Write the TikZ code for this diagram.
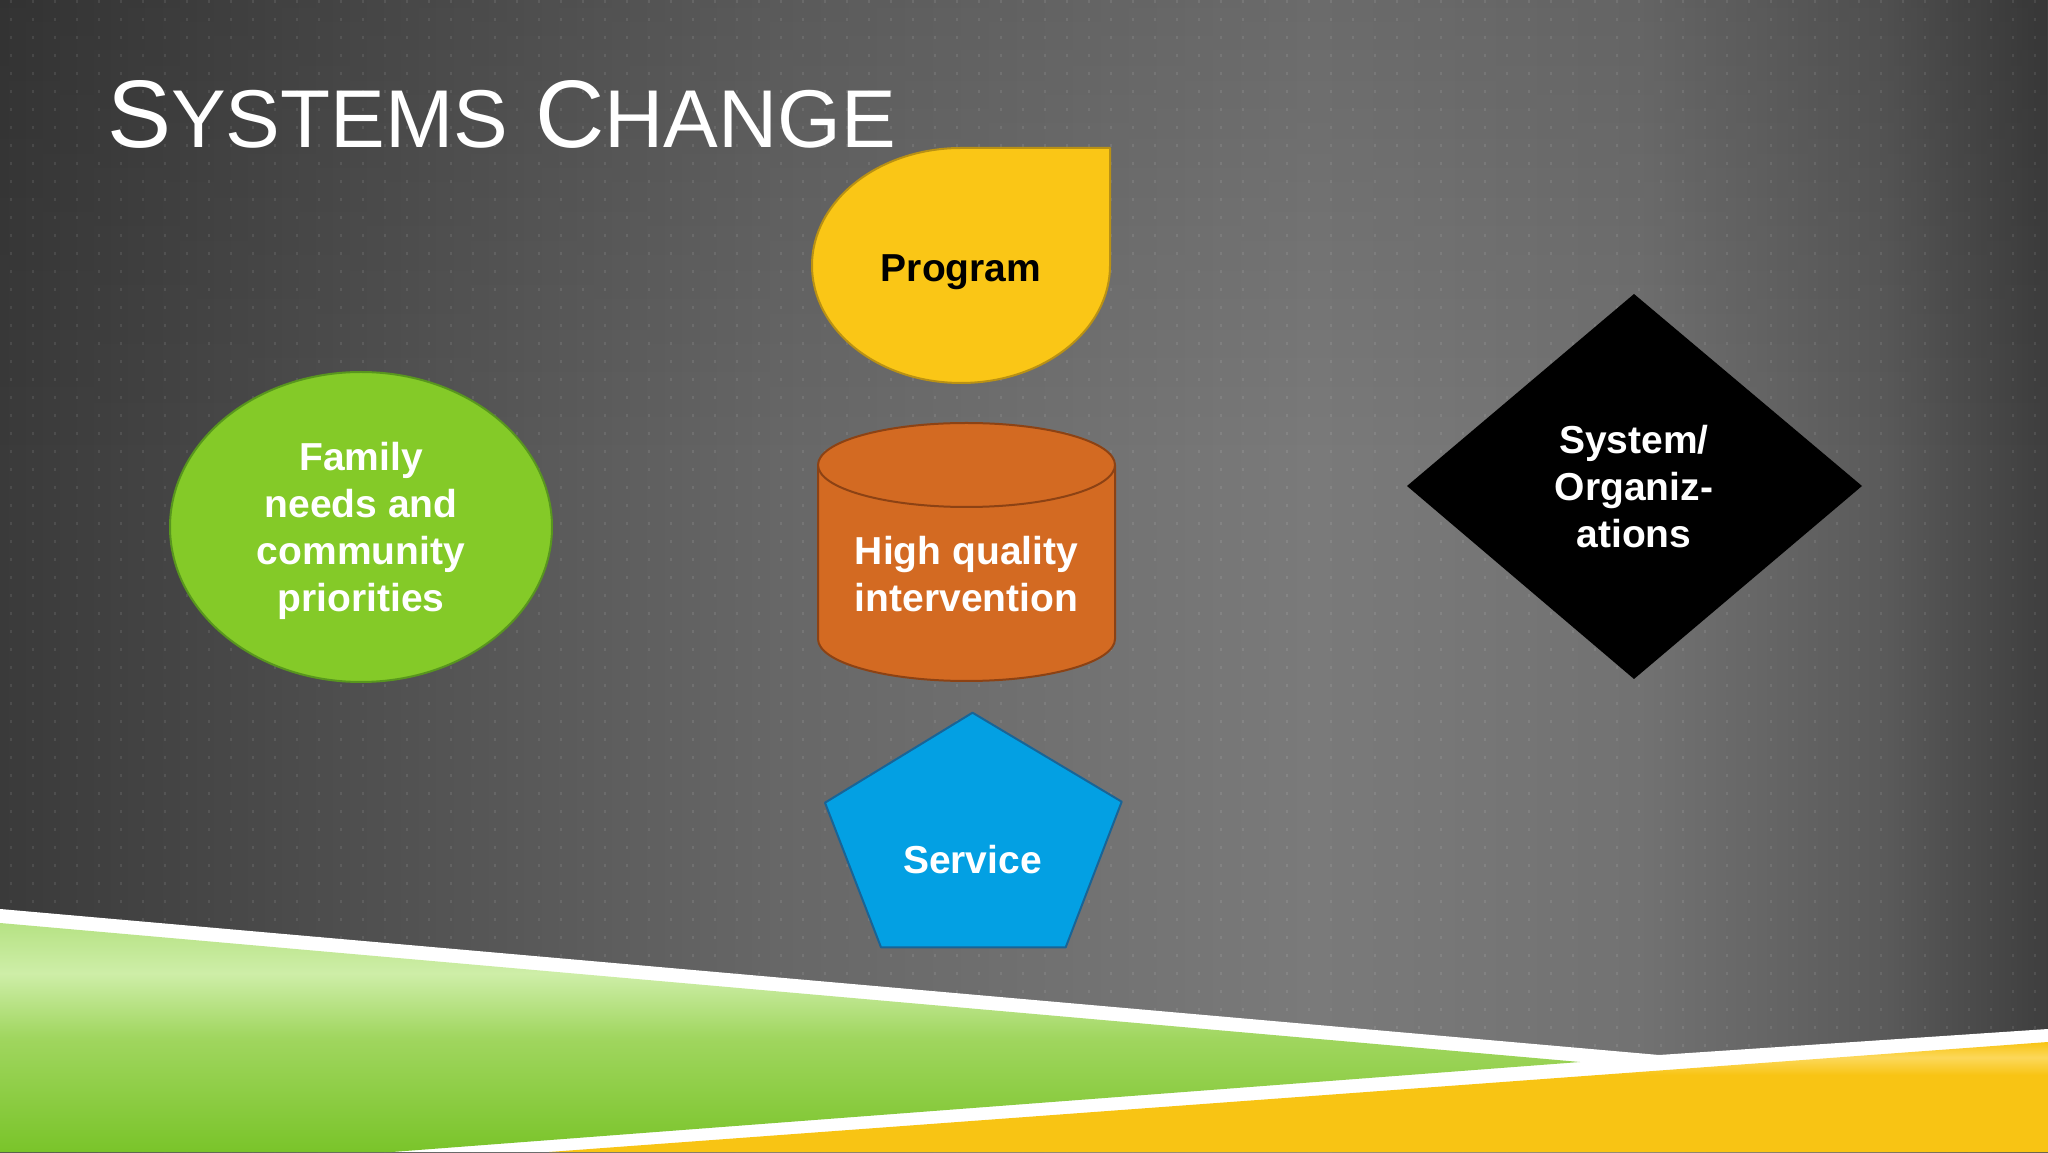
\documentclass[tikz,border=0pt]{standalone}
\usepackage{fontspec}
\setmainfont{Liberation Sans}
\usetikzlibrary{fadings}
\definecolor{bg0}{RGB}{58,58,58}
\definecolor{bg1}{RGB}{82,82,82}
\definecolor{bg2}{RGB}{103,103,103}
\definecolor{bg3}{RGB}{122,122,122}
\definecolor{bg4}{RGB}{114,114,114}
\definecolor{bg5}{RGB}{90,90,90}
\definecolor{bg6}{RGB}{62,62,62}
\definecolor{gsat}{RGB}{122,196,42}
\definecolor{gmid}{RGB}{160,214,95}
\definecolor{glight}{RGB}{206,238,168}
\definecolor{gtop}{RGB}{182,226,132}
\definecolor{ysat}{RGB}{248,196,20}
\definecolor{ylight}{RGB}{252,216,90}
\definecolor{famfill}{RGB}{132,202,40}
\definecolor{famline}{RGB}{88,150,30}
\definecolor{cylfill}{RGB}{211,106,34}
\definecolor{cylline}{RGB}{140,66,20}
\definecolor{progfill}{RGB}{250,198,22}
\definecolor{progline}{RGB}{185,145,20}
\definecolor{servfill}{RGB}{3,160,227}
\definecolor{servline}{RGB}{25,100,150}
\pgfdeclarehorizontalshading{bgshade}{100bp}{color(0bp)=(bg0); color(25bp)=(bg0); color(35bp)=(bg1); color(44bp)=(bg2); color(57bp)=(bg3); color(65bp)=(bg4); color(71bp)=(bg5); color(75bp)=(bg6); color(100bp)=(bg6)}
\pgfdeclareverticalshading{greenband}{100bp}{color(0bp)=(gsat); color(25bp)=(gsat); color(50bp)=(gmid); color(64bp)=(glight); color(75bp)=(gtop); color(100bp)=(gtop)}
\pgfdeclareverticalshading{yellowband}{100bp}{color(0bp)=(ysat); color(25bp)=(ysat); color(60bp)=(ysat); color(68bp)=(ylight); color(75bp)=(ysat); color(100bp)=(ysat)}
\tikzset{
  lbl/.style={font=\bfseries\fontsize{39}{47}\selectfont, align=center, inner sep=0, anchor=base, text=white},
  shapeline/.style={line width=2pt, line join=round},
  dotline/.style={white, opacity=0.09, line width=2pt, dash pattern=on 3pt off 15pt}
}
\begin{document}
\begin{tikzpicture}[x=1pt,y=1pt]
\useasboundingbox (0,0) rectangle (2048,1152);
% background
\shade[shading=bgshade] (0,0) rectangle (2048,1152);
\fill[black, opacity=0.12, path fading=south] (0,700) rectangle (2048,1152);
\foreach \x in {11,33,...,2048} \draw[dotline] (\x,1152) -- (\x,0);
% bottom bands
\fill[white] (0,243) -- (1659,97) -- (2048,123) -- (2048,0) -- (0,0) -- cycle;
\shade[shading=greenband] (0,229) -- (1580,90) -- (392,0) -- (0,0) -- cycle;
\shade[shading=yellowband] (549,0) -- (2048,110) -- (2048,0) -- cycle;
% title
\node[anchor=base west, inner sep=0, text=white] (title) at (107,1004)
  {\fontsize{96}{96}\selectfont S\fontsize{82}{82}\selectfont YSTEMS\fontsize{96}{96}\selectfont{} C\fontsize{82}{82}\selectfont HANGE};
% family ellipse
\draw[shapeline, fill=famfill, draw=famline] (361,625) ellipse [x radius=191, y radius=155];
\node[lbl] (family) at (361,540.3) {Family\\needs and\\community\\priorities};
% program teardrop
\draw[shapeline, fill=progfill, draw=progline] (961,1004) -- (1110,1004) -- (1110,886.5)
  arc[start angle=0, end angle=-180, x radius=149, y radius=117.5]
  arc[start angle=180, end angle=90, x radius=149, y radius=117.5] -- cycle;
\node[lbl, text=black] (program) at (961,870) {Program};
% cylinder
\draw[shapeline, fill=cylfill, draw=cylline] (818,687) -- (818,513)
  arc[start angle=180, end angle=360, x radius=148.5, y radius=42] -- (1115,687);
\draw[shapeline, fill=cylfill, draw=cylline] (966.5,687) ellipse [x radius=148.5, y radius=42];
\node[lbl] (hq) at (966.5,540.3) {High quality\\intervention};
% service pentagon
\draw[shapeline, fill=servfill, draw=servline] (972.5,439.3) -- (1121.7,350.3) -- (1065.7,204.7) -- (881,204.7) -- (825,349.3) -- cycle;
\node[lbl] (service) at (972.5,278) {Service};
% diamond
\fill[black] (1634,858) -- (1862,666) -- (1634,473) -- (1407,666) -- cycle;
\node[lbl] (system) at (1634,604) {System/\\Organiz-\\ations};
\end{tikzpicture}
\end{document}
